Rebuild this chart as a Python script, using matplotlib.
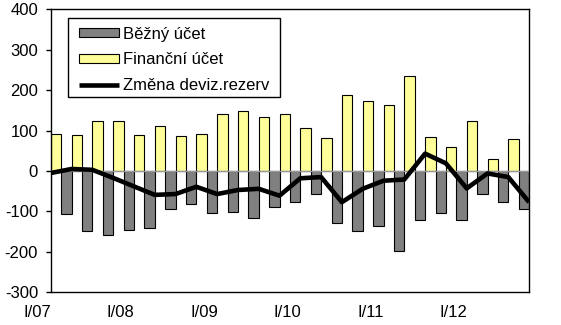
import matplotlib
matplotlib.use("Agg")
import matplotlib.pyplot as plt
from matplotlib.patches import Rectangle
import numpy as np

plt.rcParams['font.family'] = ['Liberation Sans', 'DejaVu Sans']
plt.rcParams['axes.unicode_minus'] = False

quarters = [f"{q}/{y:02d}" for y in range(7, 13) for q in ["I", "II", "III", "IV"]]
bezny_ucet = [-100, -106, -148, -158, -145, -140, -94, -81, -103, -101, -116, -89,
              -77, -56, -128, -149, -136, -197, -122, -103, -122, -56, -77, -94]
financni_ucet = [92, 90, 123, 123, 90, 112, 87, 92, 142, 149, 134, 142,
                 107, 82, 188, 174, 164, 235, 85, 60, 124, 30, 80, 122]
zmena_rezerv = [-5, 5, 3, -17, -38, -59, -57, -39, -57, -47, -44, -61,
                -18, -15, -77, -44, -24, -21, 43, 19, -43, -6, -15, -77]
tick_labels = ["I/07", "I/08", "I/09", "I/10", "I/11", "I/12"]

W, H = 561, 325
fig = plt.figure(figsize=(W / 100, H / 100), dpi=100)
ax_l, ax_r, ax_t, ax_b = 50.7, 529.1, 9.3, 292.3
ax = fig.add_axes([ax_l / W, 1 - ax_b / H, (ax_r - ax_l) / W, (ax_b - ax_t) / H])

x = np.arange(len(quarters))
bw = 0.5
b1 = ax.bar(x - bw / 2, bezny_ucet, width=bw, color='#808080', edgecolor='black',
            linewidth=0.8, label='Běžný účet', zorder=2)
b2 = ax.bar(x + bw / 2, financni_ucet, width=bw, color='#FFFF99', edgecolor='black',
            linewidth=0.8, label='Finanční účet', zorder=2)
ax.axhline(0, color='#999999', linewidth=1, zorder=3)
l1, = ax.plot(x, zmena_rezerv, color='black', linewidth=3.3, label='Změna deviz.rezerv',
              zorder=4, solid_joinstyle='round', solid_capstyle='butt')

ax.set_xticks([])
ax.set_xlim(0, len(quarters) - 1)
ax.set_ylim(-300, 400)
ax.set_yticks(np.arange(-300, 401, 100))
ax.tick_params(axis='y', length=3.6, width=1, pad=5.5, labelsize=12, direction='out')
for lbl, pos in zip(tick_labels, np.arange(0, len(quarters), 4)):
    ax.text(pos - 0.63, -(317.3 - ax_b) / (ax_b - ax_t), lbl,
            transform=ax.get_xaxis_transform(), ha='center', va='baseline',
            fontsize=12, clip_on=False)
for s in ax.spines.values():
    s.set_linewidth(1)
    s.set_color('black')

# legend frame
frame = Rectangle((68 / W, 1 - 97 / H), (280 - 68) / W, (97 - 18) / H,
                  transform=fig.transFigure, facecolor='white',
                  edgecolor='black', linewidth=1, zorder=5, clip_on=False)
ax.add_artist(frame)
leg = ax.legend([b1, b2, l1], ['Běžný účet', 'Finanční účet', 'Změna deviz.rezerv'],
                loc='upper left', bbox_to_anchor=(79 / W, 1 - 26.5 / H),
                bbox_transform=fig.transFigure, borderaxespad=0, frameon=False,
                fontsize=12, handlelength=2.4, handleheight=0.48,
                handletextpad=0.25, labelspacing=0.66, borderpad=0)
leg.set_zorder(6)

fig.savefig('out.png', dpi=100)
